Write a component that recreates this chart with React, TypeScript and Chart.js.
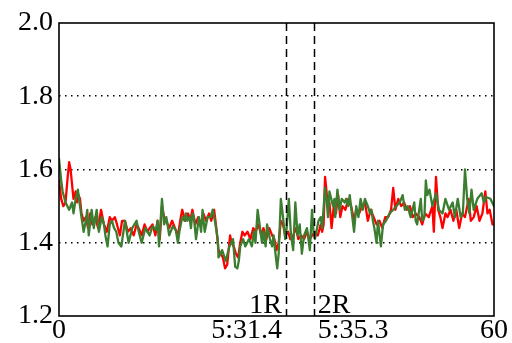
import React, { useEffect, useRef } from "react";
import { Chart, registerables } from "chart.js";

Chart.register(...registerables);

const yTicks = [1.2, 1.4, 1.6, 1.8, 2.0];
const markerTimes = [31.3, 35.15];
const markerNames = ["1R", "2R"];
const markerTickLabels = ["5:31.4", "5:35.3"];
const edgeTickValues = [0, 60];
const edgeTickLabels = ["0", "60"];

const greenTimes = [
  0, 0.3, 0.5, 0.9, 1.4, 1.8, 2.0, 2.3, 2.6, 2.9, 3.1, 3.4, 3.7, 3.9, 4.1, 4.5, 4.8, 5.2, 5.5, 5.9, 6.2, 6.4, 6.7, 7.0, 7.3, 7.6, 7.9, 8.2, 8.6, 9.1, 9.6, 10.1, 10.7, 11.0, 11.4, 11.9,
  12.5, 12.9, 13.4, 13.6, 13.8, 14.2, 14.5, 14.8, 15.2, 15.7, 16.1, 16.4, 16.6, 17.0, 17.3, 17.5, 17.7, 18.0, 18.2, 18.4, 18.6, 18.9, 19.3, 19.6, 19.8, 20.1, 20.5, 20.9, 21.2, 21.5, 21.9, 22.0, 22.3, 22.5, 23.0, 23.5, 24.0,
  24.3, 24.6, 24.8, 25.0, 25.4, 25.7, 26.2, 26.6, 26.9, 27.1, 27.4, 27.8, 28.0, 28.2, 28.5, 28.7, 29.1, 29.4, 29.6, 29.8, 30.1, 30.3, 30.6, 30.9, 31.2, 31.4, 31.7, 32.0, 32.3, 32.6, 32.9, 33.2, 33.5, 33.8, 34.2, 34.6, 34.9, 35.1, 35.3, 35.8, 36.1,
  36.3, 36.7, 36.9, 37.1, 37.3, 37.8, 38.0, 38.1, 38.4, 38.7, 39.0, 39.4, 39.6, 39.9, 40.1, 40.7, 41.0, 41.3, 41.6, 41.9, 42.2, 42.6, 42.9, 43.1, 43.3, 43.5, 43.8, 44.0, 44.4, 44.7, 45.1, 45.6, 46.1, 46.5, 47.0, 47.4, 47.7, 48.1,
  48.5, 49.0, 49.2, 49.4, 49.9, 50.1, 50.4, 50.6, 50.8, 51.1, 51.5, 52.0, 52.4, 52.9, 53.3, 53.8, 54.3, 54.6, 55.0, 55.4, 55.7, 56.0, 56.3, 56.6, 56.9, 57.2, 57.7, 58.3, 58.6, 58.9, 59.5, 60.0,
];
const greenValues = [
  1.63, 1.57, 1.54, 1.51, 1.49, 1.51, 1.48, 1.52, 1.545, 1.50, 1.47, 1.43, 1.46, 1.49, 1.42, 1.49, 1.44, 1.49, 1.43, 1.47, 1.45, 1.42, 1.39, 1.45, 1.46, 1.44, 1.43, 1.40, 1.39, 1.46, 1.40, 1.44, 1.46, 1.43, 1.40, 1.44,
  1.42, 1.445, 1.435, 1.46, 1.39, 1.52, 1.45, 1.47, 1.42, 1.445, 1.435, 1.40, 1.43, 1.47, 1.46, 1.48, 1.46, 1.47, 1.44, 1.48, 1.47, 1.41, 1.47, 1.43, 1.49, 1.43, 1.47, 1.47, 1.49, 1.46, 1.41, 1.36, 1.37, 1.38, 1.35, 1.39, 1.41,
  1.335, 1.33, 1.35, 1.39, 1.41, 1.39, 1.41, 1.39, 1.43, 1.40, 1.49, 1.43, 1.40, 1.43, 1.39, 1.45, 1.41, 1.39, 1.42, 1.38, 1.33, 1.37, 1.52, 1.47, 1.41, 1.44, 1.52, 1.42, 1.38, 1.51, 1.42, 1.45, 1.37, 1.42, 1.44, 1.38, 1.49, 1.43, 1.41, 1.46, 1.47,
  1.44, 1.55, 1.52, 1.47, 1.54, 1.50, 1.52, 1.47, 1.545, 1.49, 1.52, 1.51, 1.52, 1.50, 1.53, 1.43, 1.50, 1.47, 1.52, 1.49, 1.52, 1.50, 1.48, 1.49, 1.46, 1.44, 1.40, 1.46, 1.39, 1.45, 1.46, 1.48, 1.49, 1.50, 1.51, 1.53, 1.49, 1.50,
  1.47, 1.51, 1.46, 1.45, 1.52, 1.46, 1.47, 1.57, 1.53, 1.545, 1.50, 1.535, 1.49, 1.48, 1.52, 1.49, 1.51, 1.47, 1.52, 1.47, 1.48, 1.60, 1.52, 1.48, 1.545, 1.49, 1.52, 1.535, 1.51, 1.525, 1.52, 1.50,
];

const redTimes = [
  0, 0.3, 0.6, 0.9, 1.2, 1.4, 1.6, 2.0, 2.3, 2.5, 2.7, 2.9, 3.1, 3.4, 3.7, 4.0, 4.3, 4.6, 5.0, 5.4, 5.8, 6.2, 6.6, 7.0, 7.3, 7.7, 8.0, 8.4, 8.7, 9.1, 9.5, 9.9, 10.3, 10.7, 11.0, 11.4, 11.8,
  12.2, 12.5, 12.9, 13.3, 13.6, 13.9, 14.2, 14.5, 14.8, 15.2, 15.6, 16.0, 16.4, 16.8, 17.0, 17.4, 17.8, 18.1, 18.4, 18.8, 19.2, 19.6, 19.9, 20.3, 20.7, 21.0, 21.4, 21.7, 22.0, 22.3, 22.6, 22.9, 23.2, 23.6, 23.8, 24.1,
  24.4, 24.7, 25.0, 25.3, 25.6, 26.0, 26.4, 26.8, 27.1, 27.5, 27.9, 28.2, 28.6, 29.0, 29.4, 29.7, 30.0, 30.3, 30.6, 30.9, 31.2, 31.6, 31.9, 32.3, 32.7, 33.0, 33.4, 33.8, 34.2, 34.6, 34.9, 35.3, 35.7, 36.1,
  36.3, 36.5, 36.7, 37.0, 37.3, 37.6, 37.9, 38.2, 38.5, 38.8, 39.1, 39.5, 39.9, 40.3, 40.7, 41.0, 41.4, 41.8, 42.2, 42.6, 43.0, 43.4, 43.8, 44.2, 44.6, 45.0, 45.4, 45.8, 46.1, 46.4, 46.8, 47.2, 47.6, 48.0,
  48.4, 48.8, 49.2, 49.7, 50.1, 50.5, 51.0, 51.5, 51.7, 52.0, 52.3, 52.6, 52.9, 53.3, 53.6, 54.0, 54.4, 54.8, 55.2, 55.6, 56.0, 56.5, 56.8, 57.2, 57.6, 58.0, 58.4, 58.8, 59.1, 59.4, 59.8, 60.0,
];
const redValues = [
  1.57, 1.52, 1.50, 1.51, 1.58, 1.62, 1.60, 1.52, 1.54, 1.51, 1.53, 1.52, 1.48, 1.46, 1.47, 1.44, 1.48, 1.45, 1.47, 1.44, 1.49, 1.45, 1.43, 1.47, 1.46, 1.47, 1.45, 1.42, 1.46, 1.46, 1.43, 1.44, 1.42, 1.45, 1.44, 1.42, 1.45,
  1.43, 1.44, 1.45, 1.42, 1.46, 1.41, 1.50, 1.47, 1.46, 1.44, 1.46, 1.44, 1.42, 1.47, 1.49, 1.46, 1.48, 1.46, 1.49, 1.45, 1.47, 1.45, 1.48, 1.46, 1.48, 1.46, 1.49, 1.44, 1.38, 1.37, 1.36, 1.33, 1.34, 1.42, 1.40, 1.39,
  1.37, 1.36, 1.40, 1.43, 1.42, 1.43, 1.41, 1.44, 1.43, 1.45, 1.42, 1.44, 1.41, 1.44, 1.42, 1.41, 1.38, 1.40, 1.46, 1.45, 1.42, 1.43, 1.41, 1.42, 1.44, 1.41, 1.42, 1.41, 1.43, 1.41, 1.42, 1.43, 1.42, 1.45,
  1.43, 1.45, 1.58, 1.52, 1.51, 1.44, 1.50, 1.48, 1.53, 1.47, 1.50, 1.49, 1.52, 1.50, 1.46, 1.49, 1.48, 1.50, 1.51, 1.46, 1.49, 1.47, 1.45, 1.46, 1.44, 1.47, 1.47, 1.49, 1.55, 1.49, 1.52, 1.50, 1.51, 1.49,
  1.50, 1.47, 1.48, 1.47, 1.45, 1.48, 1.47, 1.50, 1.43, 1.58, 1.49, 1.47, 1.44, 1.48, 1.47, 1.49, 1.46, 1.49, 1.44, 1.48, 1.47, 1.52, 1.46, 1.47, 1.50, 1.46, 1.48, 1.54, 1.48, 1.49, 1.45, 1.45,
];

const FONT = "'Liberation Serif', 'Times New Roman', serif";

const decorPlugin = {
  id: "decor",
  afterDatasetsDraw(chart: any) {
    const { ctx, chartArea, scales } = chart;
    const xs = scales.x;
    ctx.save();
    ctx.strokeStyle = "#000";
    ctx.lineWidth = 1.5;
    ctx.setLineDash([8, 5]);
    markerTimes.forEach((t) => {
      const px = Math.round(xs.getPixelForValue(t)) + 0.5;
      ctx.beginPath();
      ctx.moveTo(px, chartArea.top);
      ctx.lineTo(px, chartArea.bottom);
      ctx.stroke();
    });
    ctx.setLineDash([]);
    ctx.lineWidth = 1.6;
    ctx.strokeRect(chartArea.left, chartArea.top, chartArea.right - chartArea.left, chartArea.bottom - chartArea.top);
    ctx.fillStyle = "#000";
    ctx.font = `28px ${FONT}`;
    ctx.textBaseline = "alphabetic";
    markerTimes.forEach((t, i) => {
      const px = xs.getPixelForValue(t);
      if (i === 0) {
        ctx.textAlign = "right";
        ctx.fillText(markerNames[i], px - 4, chartArea.bottom - 3);
        ctx.fillText(markerTickLabels[i], px - 4, chartArea.bottom + 22);
      } else {
        ctx.textAlign = "left";
        ctx.fillText(markerNames[i], px + 4, chartArea.bottom - 3);
        ctx.fillText(markerTickLabels[i], px + 4, chartArea.bottom + 22);
      }
    });
    ctx.textAlign = "center";
    edgeTickValues.forEach((v, i) => {
      const px = xs.getPixelForValue(v);
      ctx.fillText(edgeTickLabels[i], px, chartArea.bottom + 22);
    });
    ctx.restore();
  },
};

export default function App() {
  const ref = useRef<HTMLCanvasElement | null>(null);
  useEffect(() => {
    if (!ref.current) return;
    const chart = new Chart(ref.current, {
      type: "line",
      data: {
        datasets: [
          {
            label: "green",
            data: greenTimes.map((t, i) => ({ x: t, y: greenValues[i] })),
            borderColor: "#3b7e30",
            borderWidth: 2.3,
            borderJoinStyle: "round",
            borderCapStyle: "round",
            pointRadius: 0,
            tension: 0,
            order: 0,
          },
          {
            label: "red",
            data: redTimes.map((t, i) => ({ x: t, y: redValues[i] })),
            borderColor: "#ff0000",
            borderWidth: 2.3,
            borderJoinStyle: "round",
            borderCapStyle: "round",
            pointRadius: 0,
            tension: 0,
            order: 1,
          },
        ],
      },
      options: {
        animation: false,
        responsive: true,
        maintainAspectRatio: false,
        layout: { padding: { left: 0, right: 18, top: 23, bottom: 27 } },
        plugins: { legend: { display: false }, tooltip: { enabled: false } },
        scales: {
          x: { type: "linear", min: 0, max: 60, display: false },
          y: {
            min: 1.2,
            max: 2.0,
            afterFit: (s: any) => {
              s.width = 59;
            },
            afterBuildTicks: (s: any) => {
              s.ticks = yTicks.map((v) => ({ value: v }));
            },
            ticks: {
              font: { family: FONT, size: 28 },
              color: "#000",
              padding: 6,
              callback: (v: any) => Number(v).toFixed(1),
            },
            grid: {
              drawTicks: false,
              color: (c: any) => (c.tick && (c.tick.value === 1.2 || c.tick.value === 2.0) ? "rgba(0,0,0,0)" : "#000"),
              lineWidth: 1.5,
            },
            border: { display: false, dash: [1.5, 4.5] },
          },
        },
      },
      plugins: [decorPlugin],
    });
    return () => chart.destroy();
  }, []);
  return (
    <div style={{ position: "absolute", left: 0, top: 0, width: 512, height: 343 }}>
      <canvas ref={ref} />
    </div>
  );
}
